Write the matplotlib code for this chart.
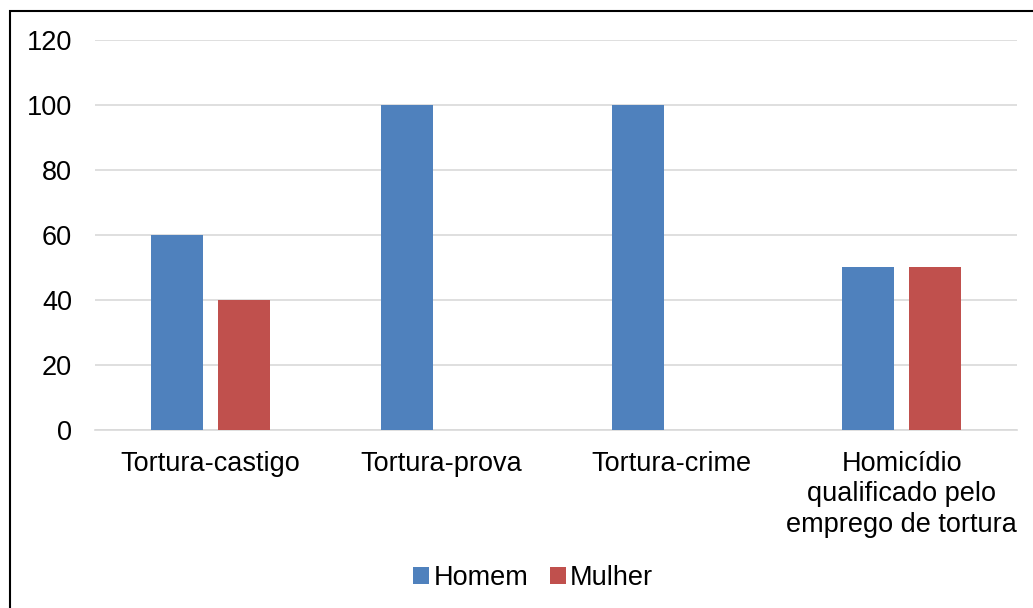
import numpy as np
import matplotlib.pyplot as plt
from matplotlib.patches import Rectangle

plt.rcParams['font.family'] = ['Liberation Sans', 'DejaVu Sans']

categorias = ['Tortura-castigo', 'Tortura-prova', 'Tortura-crime',
              'Homicídio\nqualificado pelo\nemprego de tortura']
homem = [60, 100, 100, 50]
mulher = [40, 0, 0, 50]

fig = plt.figure(figsize=(10.33, 6.08), dpi=100)
ax = fig.add_axes([0.092, 0.2928, 0.8925, 0.6414])

x = np.arange(len(categorias))
w = 0.226
gap = 0.065
ax.bar(x - (w + gap) / 2, homem, w, color='#4F81BD', label='Homem', zorder=3)
ax.bar(x + (w + gap) / 2, mulher, w, color='#C0504D', label='Mulher', zorder=3)

ax.set_xlim(-0.5, len(categorias) - 0.5)
ax.set_ylim(0, 120)
ax.set_yticks(range(0, 121, 20))
ax.yaxis.grid(True, color='#D9D9D9', linewidth=1.2, zorder=0)
ax.set_xticks(x)
ax.set_xticklabels(categorias, fontsize=19.5, linespacing=1.22, va='top')
ax.tick_params(axis='y', labelsize=19.5, length=0, pad=16.5)
ax.tick_params(axis='x', length=0, pad=15)
for s in ['top', 'right', 'left']:
    ax.spines[s].set_visible(False)
ax.spines['bottom'].set_color('#D9D9D9')
ax.spines['bottom'].set_linewidth(1.2)

fig.legend(loc='center', bbox_to_anchor=(0.516, 0.049), ncol=2, frameon=False,
           fontsize=19.5, handlelength=0.6, handleheight=0.6,
           handletextpad=0.15, columnspacing=0.8)

# moldura do gráfico
fig.patches.append(Rectangle((0.0092, -0.1), 1.1, 1.082, transform=fig.transFigure,
                             fill=False, edgecolor='black', linewidth=1.5))

fig.savefig('out.png', dpi=100)
